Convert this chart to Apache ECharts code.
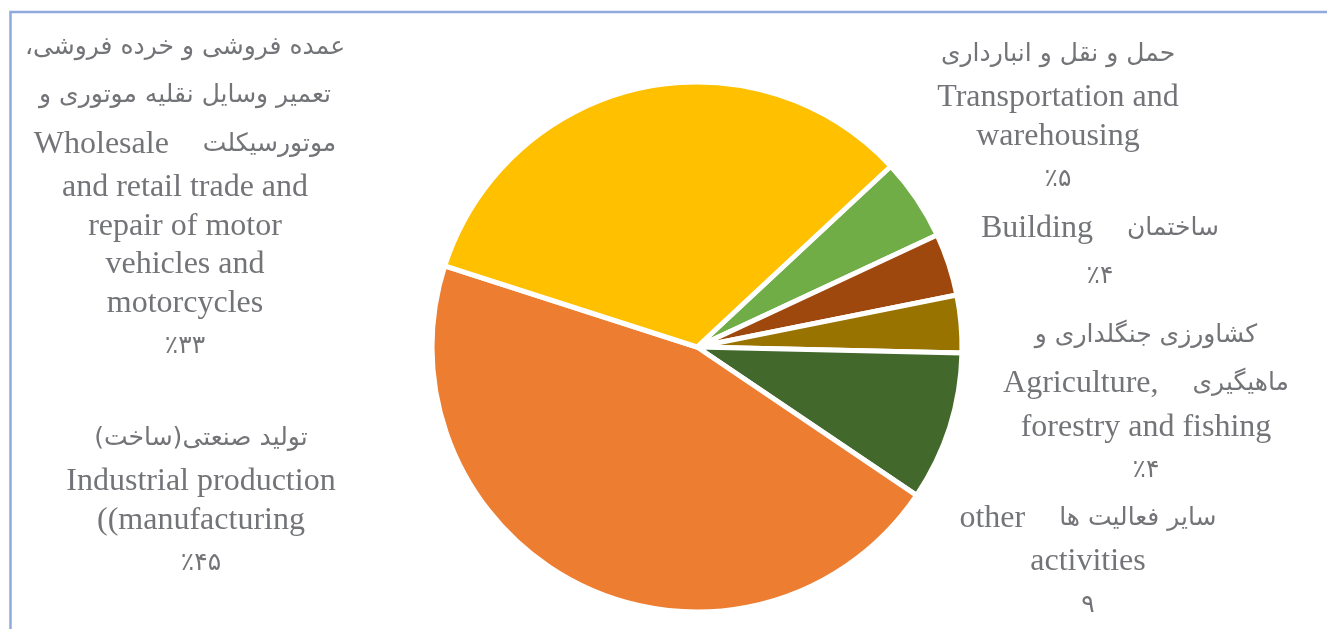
<!DOCTYPE html>
<html>
<head>
<meta charset="utf-8">
<script src="https://cdn.jsdelivr.net/npm/echarts@6/dist/echarts.min.js"></script>
<style>
  html, body { margin: 0; padding: 0; background: #fff; }
  #chart { width: 1327px; height: 629px; }
</style>
</head>
<body>
<div id="chart"></div>
<script>
// ---- Data ----
const categoriesEn = [
  'Transportation and warehousing',
  'Building',
  'Agriculture, forestry and fishing',
  'other activities',
  'Industrial production (manufacturing)',
  'Wholesale and retail trade and repair of motor vehicles and motorcycles'
];
const categoriesFa = [
  'حمل و نقل و انبارداری',
  'ساختمان',
  'کشاورزی جنگلداری و ماهیگیری',
  'سایر فعالیت ها',
  'تولید صنعتی(ساخت)',
  'عمده فروشی و خرده فروشی، تعمیر وسایل نقلیه موتوری و موتورسیکلت'
];
const values = [5.0, 3.8, 3.5, 9.1, 45.5, 33.1];
const valueLabels = ['٪۵', '٪۴', '٪۴', '۹', '٪۴۵', '٪۳۳'];
// label text, line by line (segments on one line are shown left to right)
const labelLines = [
  [['حمل و نقل و انبارداری'], ['Transportation and'], ['warehousing']],
  [['Building', 'ساختمان']],
  [['کشاورزی جنگلداری و'], ['Agriculture,', 'ماهیگیری'], ['forestry and fishing']],
  [['other', 'سایر فعالیت ها'], ['activities']],
  [['تولید صنعتی(ساخت)\u200F'], ['Industrial production'], ['((manufacturing']],
  [['عمده فروشی و خرده فروشی،\u200F'], ['تعمیر وسایل نقلیه موتوری و'], ['Wholesale', 'موتورسیکلت'],
   ['and retail trade and'], ['repair of motor'], ['vehicles and'], ['motorcycles']]
];
const colors = ['#70AD47', '#9E480E', '#997300', '#43682B', '#ED7D31', '#FFC000'];

// ---- Layout (label block anchors: centre x, top y) ----
const labelAnchors = [[1058, 30], [1100, 204], [1146, 311], [1088, 494], [201, 414], [185, 23]];

const isArabic = s => /[\u0600-\u06FF]/.test(s);
function richLine(segs) {
  return segs.map(s => '{' + (isArabic(s) ? 'fa' : 'en') + '|' + s + '}').join('{gap| }');
}

const chart = echarts.init(document.getElementById('chart'), null, { renderer: 'canvas' });
const textColor = '#737478';
chart.setOption({
  backgroundColor: '#fff',
  animation: false,
  graphic: [{
    type: 'rect',
    shape: { x: 10.5, y: 12, width: 1340, height: 640 },
    style: { fill: 'none', stroke: '#8FAADC', lineWidth: 2.5 },
    silent: true
  }],
  series: [{
    type: 'pie',
    center: [697, 347],
    radius: 265,
    startAngle: 43,
    clockwise: true,
    avoidLabelOverlap: false,
    itemStyle: { borderColor: '#fff', borderWidth: 5 },
    labelLine: { show: false },
    label: {
      show: true,
      position: 'outside',
      align: 'center',
      formatter: p => {
        const lines = labelLines[p.dataIndex].map(richLine);
        lines.push('{fa|' + valueLabels[p.dataIndex] + '}');
        return lines.join('\n');
      },
      rich: {
        en: { fontFamily: '"Liberation Serif", "Times New Roman", serif', fontSize: 32, lineHeight: 38.5, color: textColor, align: 'center' },
        fa: { fontFamily: '"DejaVu Sans", sans-serif', fontSize: 25, lineHeight: 48.5, color: textColor, align: 'center' },
        gap: { fontFamily: '"Liberation Serif", serif', fontSize: 32, width: 34, lineHeight: 38 }
      }
    },
    labelLayout: p => ({
      x: labelAnchors[p.dataIndex][0],
      y: labelAnchors[p.dataIndex][1],
      align: 'center',
      verticalAlign: 'top'
    }),
    data: values.map((v, i) => ({
      name: categoriesEn[i],
      value: v,
      itemStyle: { color: colors[i] }
    }))
  }]
});
</script>
</body>
</html>
